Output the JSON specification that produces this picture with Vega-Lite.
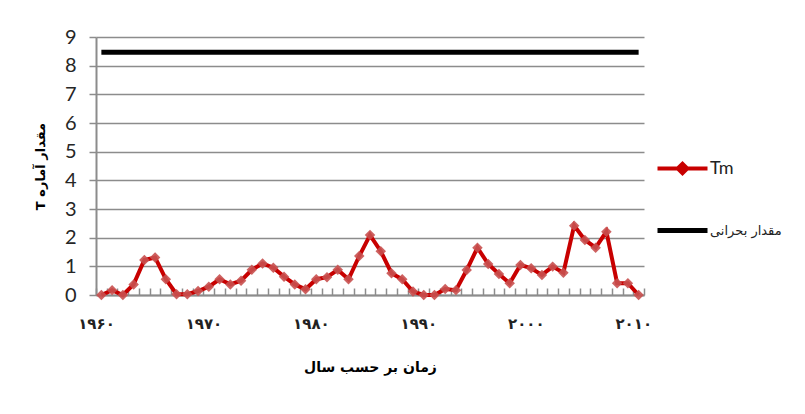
{
  "$schema": "https://vega.github.io/schema/vega-lite/v6.json",
  "width": 548,
  "height": 258,
  "autosize": {"type": "none"},
  "padding": {"left": 96, "top": 37, "right": 161, "bottom": 119},
  "background": "white",
  "config": {"view": {"stroke": null}},
  "datasets": {
    "tm": [
      {"year": 1960, "value": 0, "series": "Tm"},
      {"year": 1961, "value": 0.17, "series": "Tm"},
      {"year": 1962, "value": 0, "series": "Tm"},
      {"year": 1963, "value": 0.37, "series": "Tm"},
      {"year": 1964, "value": 1.22, "series": "Tm"},
      {"year": 1965, "value": 1.31, "series": "Tm"},
      {"year": 1966, "value": 0.55, "series": "Tm"},
      {"year": 1967, "value": 0.03, "series": "Tm"},
      {"year": 1968, "value": 0.03, "series": "Tm"},
      {"year": 1969, "value": 0.14, "series": "Tm"},
      {"year": 1970, "value": 0.29, "series": "Tm"},
      {"year": 1971, "value": 0.55, "series": "Tm"},
      {"year": 1972, "value": 0.37, "series": "Tm"},
      {"year": 1973, "value": 0.5, "series": "Tm"},
      {"year": 1974, "value": 0.88, "series": "Tm"},
      {"year": 1975, "value": 1.1, "series": "Tm"},
      {"year": 1976, "value": 0.95, "series": "Tm"},
      {"year": 1977, "value": 0.64, "series": "Tm"},
      {"year": 1978, "value": 0.37, "series": "Tm"},
      {"year": 1979, "value": 0.2, "series": "Tm"},
      {"year": 1980, "value": 0.55, "series": "Tm"},
      {"year": 1981, "value": 0.62, "series": "Tm"},
      {"year": 1982, "value": 0.88, "series": "Tm"},
      {"year": 1983, "value": 0.55, "series": "Tm"},
      {"year": 1984, "value": 1.36, "series": "Tm"},
      {"year": 1985, "value": 2.09, "series": "Tm"},
      {"year": 1986, "value": 1.53, "series": "Tm"},
      {"year": 1987, "value": 0.76, "series": "Tm"},
      {"year": 1988, "value": 0.55, "series": "Tm"},
      {"year": 1989, "value": 0.12, "series": "Tm"},
      {"year": 1990, "value": 0, "series": "Tm"},
      {"year": 1991, "value": 0, "series": "Tm"},
      {"year": 1992, "value": 0.21, "series": "Tm"},
      {"year": 1993, "value": 0.17, "series": "Tm"},
      {"year": 1994, "value": 0.87, "series": "Tm"},
      {"year": 1995, "value": 1.65, "series": "Tm"},
      {"year": 1996, "value": 1.08, "series": "Tm"},
      {"year": 1997, "value": 0.73, "series": "Tm"},
      {"year": 1998, "value": 0.41, "series": "Tm"},
      {"year": 1999, "value": 1.05, "series": "Tm"},
      {"year": 2000, "value": 0.93, "series": "Tm"},
      {"year": 2001, "value": 0.7, "series": "Tm"},
      {"year": 2002, "value": 0.99, "series": "Tm"},
      {"year": 2003, "value": 0.78, "series": "Tm"},
      {"year": 2004, "value": 2.42, "series": "Tm"},
      {"year": 2005, "value": 1.92, "series": "Tm"},
      {"year": 2006, "value": 1.65, "series": "Tm"},
      {"year": 2007, "value": 2.21, "series": "Tm"},
      {"year": 2008, "value": 0.41, "series": "Tm"},
      {"year": 2009, "value": 0.41, "series": "Tm"},
      {"year": 2010, "value": 0, "series": "Tm"}
    ],
    "crit": [
      {"year": 1960, "value": 8.47, "series": "مقدار بحرانی"},
      {"year": 2010, "value": 8.47, "series": "مقدار بحرانی"}
    ]
  },
  "encoding": {
    "x": {
      "field": "year",
      "type": "quantitative",
      "scale": {"domain": [1959.5, 2010.5], "nice": false, "zero": false},
      "axis": {
        "title": "زمان بر حسب سال",
        "titleFont": "DejaVu Sans",
        "titleFontSize": 14,
        "titleFontWeight": "bold",
        "titleColor": "#000000",
        "titlePadding": 29,
        "values": [1959.5,1960.5,1961.5,1962.5,1963.5,1964.5,1965.5,1966.5,1967.5,1968.5,1969.5,1970.5,1971.5,1972.5,1973.5,1974.5,1975.5,1976.5,1977.5,1978.5,1979.5,1980.5,1981.5,1982.5,1983.5,1984.5,1985.5,1986.5,1987.5,1988.5,1989.5,1990.5,1991.5,1992.5,1993.5,1994.5,1995.5,1996.5,1997.5,1998.5,1999.5,2000.5,2001.5,2002.5,2003.5,2004.5,2005.5,2006.5,2007.5,2008.5,2009.5,2010.5],
        "labelExpr": "datum.value === 1959.5 ? '۱۹۶۰' : datum.value === 1969.5 ? '۱۹۷۰' : datum.value === 1979.5 ? '۱۹۸۰' : datum.value === 1989.5 ? '۱۹۹۰' : datum.value === 1999.5 ? '۲۰۰۰' : datum.value === 2009.5 ? '۲۰۱۰' : ''",
        "labelDx": 5.4,
        "labelOverlap": false,
        "labelBound": false,
        "labelFlush": false,
        "labelFont": "DejaVu Sans",
        "labelFontSize": 15,
        "labelFontWeight": "bold",
        "labelColor": "#222222",
        "labelPadding": 28,
        "tickSize": -7,
        "tickColor": "#8c8c8c",
        "tickWidth": 1.5,
        "domainColor": "#8c8c8c",
        "domainWidth": 2,
        "grid": false
      }
    },
    "y": {
      "field": "value",
      "type": "quantitative",
      "scale": {"domain": [0, 9], "nice": false},
      "axis": {
        "title": "T مقدار آماره",
        "titleFont": "DejaVu Sans",
        "titleFontSize": 13,
        "titleFontWeight": "bold",
        "titleColor": "#000000",
        "titlePadding": 17,
        "values": [0,1,2,3,4,5,6,7,8,9],
        "labelFont": "Lato",
        "labelFontSize": 20,
        "labelColor": "#262626",
        "labelPadding": 13,
        "tickSize": 7,
        "tickColor": "#8c8c8c",
        "tickWidth": 1.5,
        "domainColor": "#8c8c8c",
        "domainWidth": 2,
        "grid": true,
        "gridColor": "#8c8c8c",
        "gridWidth": 1.5
      }
    }
  },
  "layer": [
    {
      "data": {"name": "crit"},
      "mark": {"type": "line", "strokeWidth": 5},
      "encoding": {
        "color": {
          "field": "series",
          "type": "nominal",
          "scale": {"domain": ["Tm", "مقدار بحرانی"], "range": ["#c80000", "#000000"]},
          "legend": {
            "title": null,
            "orient": "none",
            "legendX": 580,
            "legendY": 125,
            "padding": 0,
            "symbolSize": 2500,
            "symbolStrokeWidth": 4,
            "rowPadding": 38,
            "labelOffset": 21,
            "labelColor": "#222222",
            "labelFont": "DejaVu Sans",
            "labelFontSize": 13,
            "encode": {
              "symbols": {
                "update": {
                  "shape": {"signal": "datum.value === 'Tm' ? 'M-1,0H1M-0.19,0L0,-0.19L0.19,0L0,0.19Z' : 'M-1,0H1'"},
                  "fill": {"signal": "datum.value === 'Tm' ? '#c8504f' : 'transparent'"},
                  "strokeWidth": {"signal": "datum.value === 'Tm' ? 4 : 5"}
                }
              },
              "labels": {
                "update": {
                  "fontSize": {"signal": "datum.value === 'Tm' ? 18 : 13"},
                  "font": {"signal": "datum.value === 'Tm' ? 'Lato' : 'DejaVu Sans'"}
                }
              }
            }
          }
        }
      }
    },
    {
      "data": {"name": "tm"},
      "mark": {"type": "line", "strokeWidth": 4},
      "encoding": {
        "color": {"field": "series", "type": "nominal"}
      }
    },
    {
      "data": {"name": "tm"},
      "mark": {"type": "point", "shape": "diamond", "size": 110, "filled": true, "color": "#c8504f", "opacity": 0.9}
    }
  ]
}
